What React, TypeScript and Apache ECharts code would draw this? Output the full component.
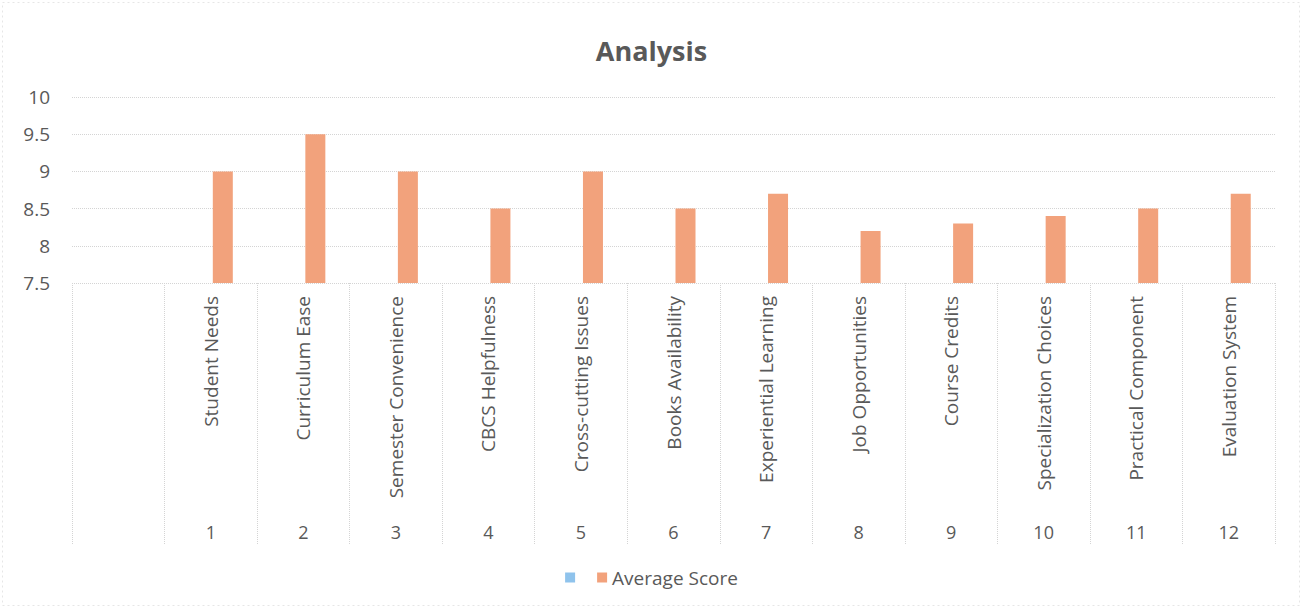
import React, { useEffect, useRef } from "react";
import * as echarts from "echarts";

const categories = [
  "",
  "Student Needs",
  "Curriculum Ease",
  "Semester Convenience",
  "CBCS Helpfulness",
  "Cross-cutting Issues",
  "Books Availability",
  "Experiential Learning",
  "Job Opportunities",
  "Course Credits",
  "Specialization Choices",
  "Practical Component",
  "Evaluation System",
];
const indexLabels = ["", "1", "2", "3", "4", "5", "6", "7", "8", "9", "10", "11", "12"];
const averageScore = [null, 9.0, 9.5, 9.0, 8.5, 9.0, 8.5, 8.7, 8.2, 8.3, 8.4, 8.5, 8.7];
const blankSeries = [null, null, null, null, null, null, null, null, null, null, null, null, null];
const yTicks = { min: 7.5, max: 10, interval: 0.5 };

const FONT = "'Open Sans', sans-serif";
const TXT = "#595959";

export default function App() {
  const ref = useRef<HTMLDivElement>(null);
  useEffect(() => {
    document.body.style.margin = "0";
    const chart = echarts.init(ref.current!, null, { renderer: "svg" });
    chart.setOption({
      animation: false,
      backgroundColor: "#ffffff",
      textStyle: { fontFamily: FONT },
      title: {
        text: "Analysis",
        left: "center",
        top: 32,
        textStyle: { fontFamily: FONT, fontSize: 27, fontWeight: "bold", color: TXT },
      },
      legend: {
        bottom: 17,
        left: "center",
        itemWidth: 10,
        itemHeight: 10,
        itemGap: 22,
        icon: "rect",
        data: ["Series1", "Average Score"],
        formatter: (n: string) => (n === "Series1" ? "" : n),
        textStyle: { fontFamily: FONT, fontSize: 19, color: TXT },
      },
      grid: { left: 72, right: 28, top: 97, bottom: 326, containLabel: false },
      xAxis: [
        {
          type: "category",
          data: categories,
          position: "bottom",
          axisLine: { show: false },
          axisTick: {
            show: true,
            interval: 0,
            length: 262,
            lineStyle: { color: "#d4d4d4", type: "dotted", width: 1 },
          },
          axisLabel: {
            interval: 0,
            rotate: 90,
            margin: 13,
            fontFamily: FONT,
            fontSize: 19,
            color: TXT,
          },
        },
        {
          type: "category",
          data: indexLabels,
          position: "bottom",
          axisLine: { show: false },
          axisTick: { show: false },
          axisLabel: {
            interval: 0,
            margin: 240,
            fontFamily: FONT,
            fontSize: 18,
            color: TXT,
          },
        },
      ],
      yAxis: {
        type: "value",
        min: yTicks.min,
        max: yTicks.max,
        interval: yTicks.interval,
        axisLine: { show: false },
        axisTick: { show: false },
        axisLabel: {
          margin: 22,
          fontFamily: FONT,
          fontSize: 19,
          color: TXT,
          formatter: (v: number) => String(v),
        },
        splitLine: { lineStyle: { color: "#d4d4d4", type: "dotted", width: 1 } },
      },
      series: [
        {
          name: "Series1",
          type: "bar",
          data: blankSeries,
          barWidth: 20,
          barGap: "20%",
          itemStyle: { color: "#8fc3ec" },
        },
        {
          name: "Average Score",
          type: "bar",
          data: averageScore,
          barWidth: 20,
          barGap: "20%",
          itemStyle: { color: "#f2a27c" },
        },
      ],
      graphic: [
        {
          type: "rect",
          shape: { x: 2.5, y: 2.5, width: 1297, height: 603 },
          style: { fill: "none", stroke: "#e6e6e6", lineWidth: 1, lineDash: [2, 3] },
          silent: true,
        },
      ],
    });
    return () => chart.dispose();
  }, []);
  return <div ref={ref} style={{ width: 1303, height: 609 }} />;
}
